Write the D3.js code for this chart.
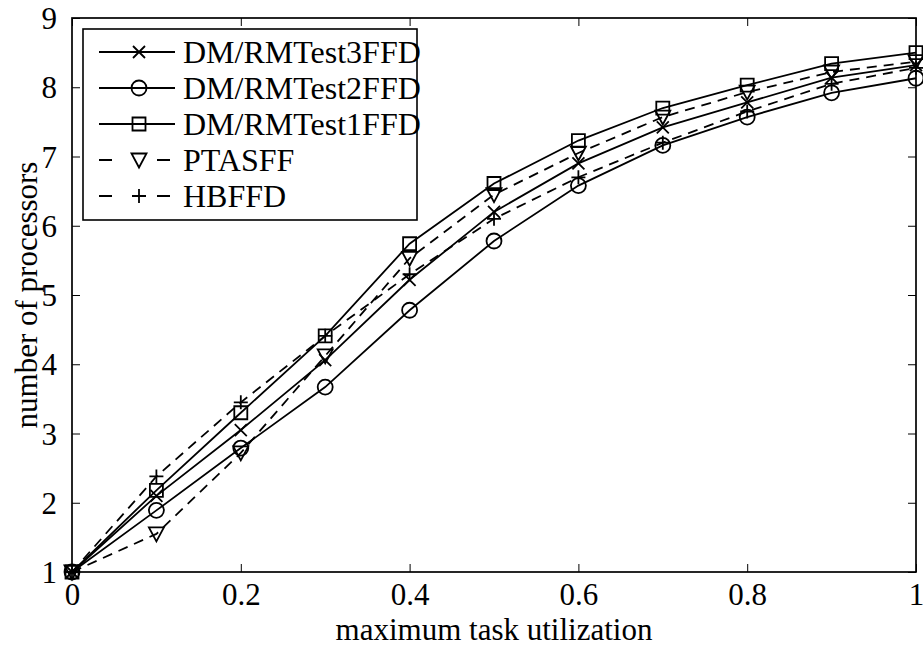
<!DOCTYPE html>
<html>
<head>
<meta charset="utf-8">
<script src="https://cdn.jsdelivr.net/npm/d3@7"></script>
<style>
  body { margin: 0; background: #fff; }
  text { font-family: "Liberation Serif", "Times New Roman", serif; fill: #000; }
</style>
</head>
<body>
<div id="chart"></div>
<script>
// values
var utilization = [0, 0.1, 0.2, 0.3, 0.4, 0.5, 0.6, 0.7, 0.8, 0.9, 1.0]
var test3FFD = [1, 2.10, 3.05, 4.06, 5.22, 6.20, 6.90, 7.42, 7.78, 8.14, 8.32]
var test2FFD = [1, 1.89, 2.79, 3.67, 4.78, 5.78, 6.58, 7.16, 7.57, 7.92, 8.13]
var test1FFD = [1, 2.18, 3.30, 4.41, 5.74, 6.61, 7.23, 7.70, 8.03, 8.34, 8.50]
var ptasff   = [1, 1.55, 2.72, 4.12, 5.53, 6.45, 7.05, 7.57, 7.93, 8.22, 8.37]
var hbffd    = [1, 2.38, 3.45, 4.41, 5.30, 6.10, 6.70, 7.20, 7.65, 8.05, 8.28]
var xTicks = [0, 0.2, 0.4, 0.6, 0.8, 1]
var yTicks = [1, 2, 3, 4, 5, 6, 7, 8, 9]

var seriesList = [
  {name: 'DM/RMTest3FFD', values: test3FFD, marker: 'x', dashed: false},
  {name: 'DM/RMTest2FFD', values: test2FFD, marker: 'o', dashed: false},
  {name: 'DM/RMTest1FFD', values: test1FFD, marker: 's', dashed: false},
  {name: 'PTASFF', values: ptasff, marker: 'v', dashed: true},
  {name: 'HBFFD', values: hbffd, marker: '+', dashed: true}
]

var W = 923, H = 648
var margin = {top: 18, right: 7, bottom: 76, left: 72}
var w = W - margin.left - margin.right,
    h = H - margin.top - margin.bottom
var lw = 1.8

var svg = d3.select('#chart').append('svg')
    .attr('width', W)
    .attr('height', H)

var g = svg.append('g')
    .attr('transform', 'translate(' + margin.left + ',' + margin.top + ')')

var x = d3.scaleLinear().domain([0, 1]).range([0, w])
var y = d3.scaleLinear().domain([1, 9]).range([h, 0])

// MATLAB-style marker shapes
function markerPath(type) {
  if (type == 'x') return 'M-6,-6L6,6M-6,6L6,-6'
  if (type == '+') return 'M-7,0L7,0M0,-7L0,7'
  if (type == 's') return 'M-6.5,-6.5H6.5V6.5H-6.5Z'
  if (type == 'v') return 'M-7.5,-6.5L7.5,-6.5L0,7.5Z'
  var r = 7.5
  return 'M' + r + ',0A' + r + ',' + r + ' 0 1,1 ' + (-r) + ',0A' + r + ',' + r + ' 0 1,1 ' + r + ',0Z'
}

var line = d3.line()
    .x(function(d) { return x(d[0]) })
    .y(function(d) { return y(d[1]) })

var plot = g.append('g').attr('class', 'series')

seriesList.forEach(function(s) {
  var pts = utilization.map(function(u, i) { return [u, s.values[i]] })
  plot.append('path')
      .attr('d', line(pts))
      .attr('fill', 'none')
      .attr('stroke', '#000')
      .attr('stroke-width', lw)
      .attr('stroke-dasharray', s.dashed ? '10,7' : null)
  plot.selectAll(null)
      .data(pts)
      .enter().append('path')
      .attr('transform', function(d) { return 'translate(' + x(d[0]) + ',' + y(d[1]) + ')' })
      .attr('d', markerPath(s.marker))
      .attr('fill', 'none')
      .attr('stroke', '#000')
      .attr('stroke-width', lw)
})

// axes (ticks inward, on all four sides)
var tickLen = 8
var xAxis = d3.axisBottom(x).tickValues(xTicks).tickSizeInner(-tickLen).tickSizeOuter(0)
    .tickPadding(12).tickFormat(d3.format('~g'))
var yAxis = d3.axisLeft(y).tickValues(yTicks).tickSizeInner(-tickLen).tickSizeOuter(0)
    .tickPadding(15).tickFormat(d3.format('d'))

var gx = g.append('g').attr('transform', 'translate(0,' + h + ')').call(xAxis)
var gy = g.append('g').call(yAxis)
g.append('g').call(d3.axisTop(x).tickValues(xTicks).tickSizeInner(-tickLen).tickSizeOuter(0).tickFormat(''))
g.append('g').attr('transform', 'translate(' + w + ',0)')
    .call(d3.axisRight(y).tickValues(yTicks).tickSizeInner(-tickLen).tickSizeOuter(0).tickFormat(''))

g.selectAll('.domain').remove()
g.selectAll('.tick line').attr('stroke', '#000').attr('stroke-width', 1)
gx.selectAll('text').style('font-size', '31px').attr('font-family', null).attr('dy', '0.68em')
gy.selectAll('text').style('font-size', '31px').attr('font-family', null).attr('dy', '0.34em')

g.append('rect')
    .attr('width', w).attr('height', h)
    .attr('fill', 'none').attr('stroke', '#000').attr('stroke-width', 1.7)

// axis titles
svg.append('text')
    .attr('x', margin.left + w / 2).attr('y', 640)
    .attr('text-anchor', 'middle')
    .style('font-size', '31px')
    .text('maximum task utilization')

svg.append('text')
    .attr('transform', 'translate(37,' + (margin.top + h / 2) + ') rotate(-90)')
    .attr('text-anchor', 'middle')
    .style('font-size', '31px')
    .text('number of processors')

// legend
var legend = svg.append('g').attr('transform', 'translate(83,29)')
legend.append('rect')
    .attr('width', 334).attr('height', 191)
    .attr('fill', '#fff').attr('stroke', '#000').attr('stroke-width', 1.6)

var rows = legend.selectAll('.row')
    .data(seriesList)
    .enter().append('g')
    .attr('class', 'row')
    .attr('transform', function(d, i) { return 'translate(0,' + (23 + i * 36) + ')' })

rows.append('path')
    .attr('d', 'M16,0H92')
    .attr('stroke', '#000')
    .attr('stroke-width', lw)
    .attr('stroke-dasharray', function(d) { return d.dashed ? '13,45' : null })
rows.append('path')
    .attr('d', function(d) { return d.dashed ? 'M74,0H87' : null })
    .attr('stroke', '#000')
    .attr('stroke-width', lw)
rows.append('path')
    .attr('transform', 'translate(56,0)')
    .attr('d', function(d) { return markerPath(d.marker) })
    .attr('fill', 'none')
    .attr('stroke', '#000')
    .attr('stroke-width', lw)
rows.append('text')
    .attr('x', 100).attr('dy', '0.35em')
    .style('font-size', '32px')
    .text(function(d) { return d.name })
</script>
</body>
</html>
